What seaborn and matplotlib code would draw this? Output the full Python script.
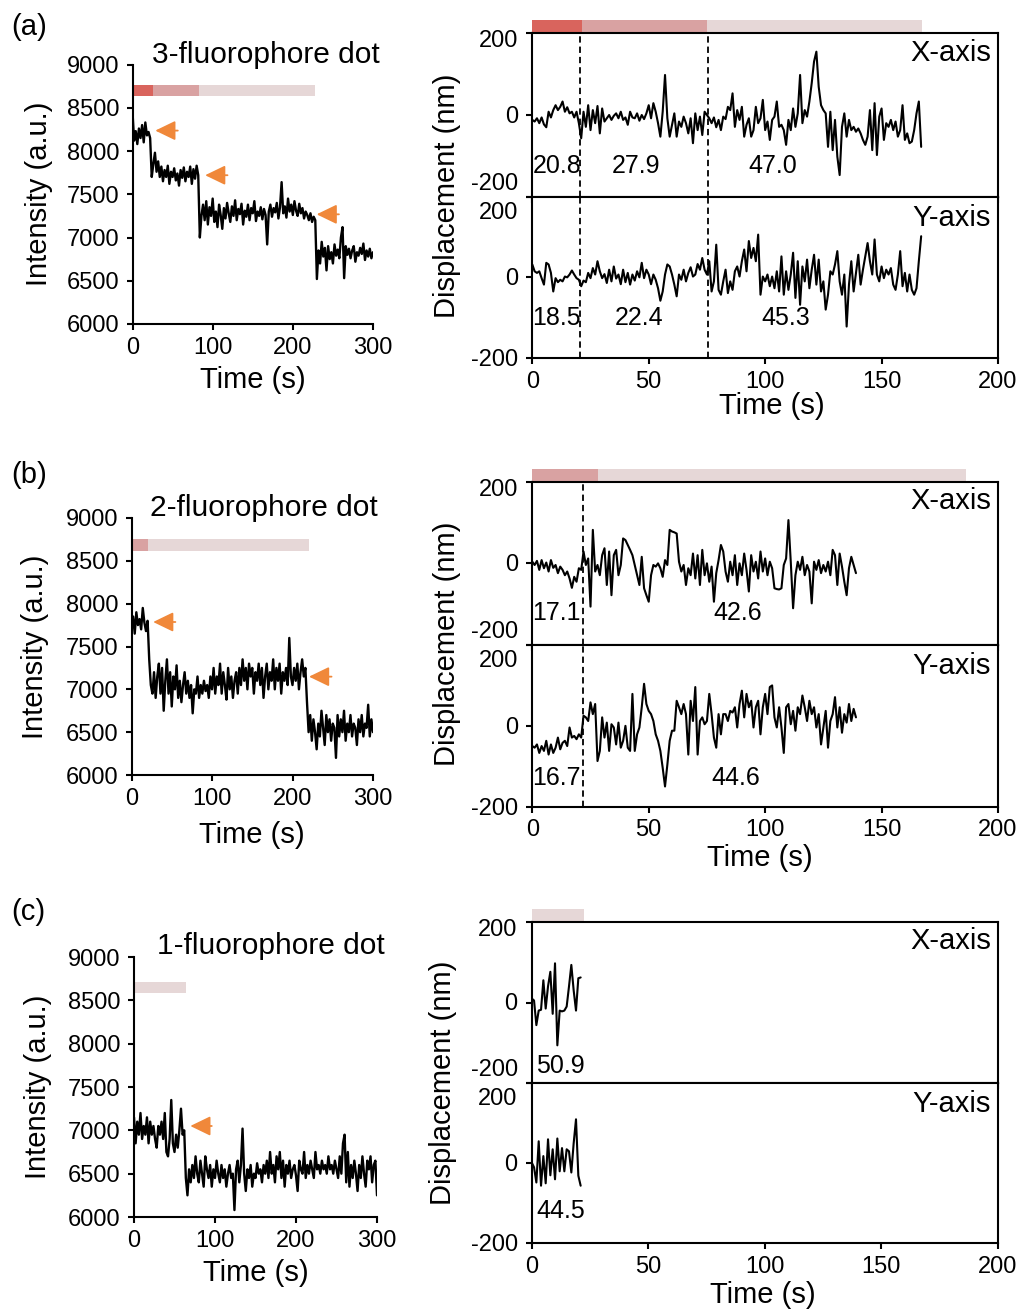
import numpy as np
import pandas as pd
import matplotlib
matplotlib.use("Agg")
import matplotlib.pyplot as plt
import matplotlib.transforms as mtransforms
import seaborn as sns

# ---------------- data ----------------
# intensity traces, sampled every 2 s from 0 to 300 s
int_a = [8450, 8120, 8230, 8080, 8260, 8150, 8300, 8100, 8330, 8180, 8220, 8150,
         7700, 7850, 7980, 7760, 7880, 7700, 7820, 7650, 7780, 7700,
         7830, 7620, 7760, 7700, 7800, 7660, 7740, 7600, 7780, 7690,
         7810, 7650, 7760, 7700, 7820, 7620, 7790, 7680, 7830, 7720,
         7000, 7250, 7380, 7200, 7420, 7150, 7350, 7250, 7450, 7180,
         7300, 7120, 7380, 7260, 7100, 7340, 7220, 7400, 7280, 7180,
         7360, 7250, 7430, 7200, 7330, 7270, 7390, 7150, 7310, 7240,
         7380, 7200, 7340, 7280, 7420, 7190, 7300, 7250, 7350, 7210,
         7330, 7260, 6920, 7300, 7380, 7240, 7340, 7290, 7400, 7220,
         7350, 7640, 7280, 7360, 7230, 7450, 7300, 7380, 7260, 7420,
         7310, 7250, 7390, 7280, 7340, 7220, 7300, 7260, 7200, 7280,
         7180, 7240, 7200,
         6520, 6850, 6700, 6950, 6780, 6880, 6620, 6900, 6750, 6830,
         6700, 6920, 6790, 6860, 6760, 7000, 7120, 6530, 6900, 6800,
         6870, 6760, 6850, 6900, 6720, 6830, 6790, 6880, 6810, 6930,
         6740, 6850, 6780, 6870, 6760, 6830]
int_b = [7700, 7850, 7650, 7900, 7750, 7820, 7700, 7950, 7780, 7680, 7800,
         7350, 7050, 6950, 7200, 6900, 7150, 7300, 6950, 7250, 6750,
         7100, 7350, 6950, 7200, 6800, 7150, 7000, 7280, 6900, 7100,
         6850, 7050, 7200, 6950, 7100, 6900, 7050, 6720, 7000, 6950,
         7150, 6900, 7050, 6950, 7100, 6980, 7050, 6900, 7150, 7000,
         7250, 6950, 7150, 7050, 7300, 6950, 7200, 7050, 6880, 7250,
         7000, 7150, 6900, 7100, 7200, 6950, 7250, 7050, 7350, 7100,
         7250, 7000, 7300, 7150, 7250, 6950, 7200, 7100, 7300, 7050,
         7250, 6900, 7150, 7300, 7000, 7200, 7100, 7350, 7000, 7250,
         7100, 7300, 6950, 7200, 7100, 7250, 7050, 7600, 7150, 7050,
         7250, 7100, 7300, 7000, 7200, 7350, 7150, 7250,
         6850, 6500, 6700, 6400, 6650, 6500, 6300, 6600, 6450, 6750,
         6550, 6350, 6700, 6500, 6650, 6400, 6600, 6550, 6200, 6700,
         6450, 6650, 6500, 6750, 6400, 6600, 6500, 6700, 6450, 6600,
         6550, 6350, 6650, 6500, 6700, 6450, 6600, 6550, 6820, 6450,
         6650, 6500]
int_c = [7150, 6850, 7100, 6950, 7200, 6900, 7050, 6950, 7150, 6850,
         7100, 6950, 7050, 6900, 6800, 7050, 6950, 7100, 6900, 7200,
         6750, 6700, 6900, 7350, 6850, 6750, 6950, 6800, 7000, 7250,
         6950, 7000,
         6450, 6250, 6550, 6400, 6600, 6450, 6700, 6500, 6400, 6650,
         6500, 6350, 6700, 6550, 6450, 6600, 6350, 6550, 6450, 6650,
         6500, 6400, 6600, 6450, 6550, 6350, 6500, 6600, 6450, 6500,
         6080, 6550, 6650, 6400, 6600, 7020, 6500, 6300, 6550, 6450,
         6600, 6350, 6500, 6450, 6620, 6500, 6550, 6400, 6600, 6500,
         6650, 6450, 6750, 6500, 6600, 6400, 6700, 6550, 6750, 6450,
         6650, 6350, 6600, 6500, 6650, 6450, 6550, 6600, 6480, 6300,
         6650, 6550, 6500, 6750, 6450, 6600, 6500, 6650, 6550, 6450,
         6750, 6550, 6600, 6500, 6650, 6550, 6600, 6500, 6700, 6550,
         6600, 6500, 6650, 6550, 6450, 6700, 6500, 6850, 6950, 6400,
         6750, 6350, 6600, 6450, 6650, 6500, 6300, 6600, 6450, 6700,
         6500, 6350, 6650, 6550, 6700, 6400, 6600, 6650, 6250]
int_dt = 2  # s between intensity samples

# displacement traces, sampled every 1 s
disp_a_x = [-12, -16, -8, -20, -6, -23, -30, 8, -6, 12,
            24, 12, 20, 33, 8, 19, 4, 8, -6, 8,
            -20, -57, 8, -29, 24, -37, 12, -20, 22, -45,
            16, -16, -8, 0, -12, -2, 4, -8, 8, -12,
            -6, -24, 8, -6, -8, 4, -14, 0, -10, 4,
            24, -8, 29, 8, -20, -53, 8, 98, -8, -53,
            -24, 4, -53, -16, -29, -4, -20, -45, -8, -69,
            4, -37, -4, -49, 8, 0, -8, -20, -6, -30,
            -12, -37, -4, -10, 20, 12, 53, -29, 12, -12,
            20, -53, -24, -8, -53, -37, 20, -20, -8, 37,
            -37, -16, -61, -12, -4, 33, -29, -24, -37, -73,
            -12, -37, 16, -29, 4, 98, -20, 12, -4, 33,
            78, 131, 155, 69, 24, 12, 4, -78, 8, -86,
            -12, -102, -147, -29, 4, -53, -12, -37, -29, -41,
            -33, -45, -61, -73, -53, 12, -86, 29, -98, -4,
            16, -61, -20, -29, -12, -37, -16, -53, -37, 24,
            -61, -45, -69, -65, -37, 4, 33, -78]
disp_a_y = [32, 15, 11, 15, -2, -18, 36, 32, 11, -35,
            -2, -12, -6, -10, 2, 0, 7, 17, 7, -2,
            -6, -22, -8, -12, 11, -2, 23, 7, 40, 15,
            -2, 8, -14, 19, -10, 27, -3, 7, -17, 19,
            -12, 11, -18, 7, -8, 15, 0, 36, -2, 19,
            7, -17, 7, -6, -27, -58, -35, 7, 32, 27,
            7, -18, -47, 7, -6, 19, -10, 11, 25, 2,
            7, 33, 19, 48, 19, 7, 40, -35, -10, 81,
            -31, -43, -10, 19, -39, -10, -31, 15, 27, 2,
            40, 69, 15, 90, 48, 73, 40, 106, -43, 2,
            -10, 7, -22, 2, -27, 15, -35, 52, -43, 15,
            -31, 7, 61, -51, 40, -68, 27, -10, 44, -27,
            19, 56, -18, 44, -35, -10, -80, -43, 15, 7,
            32, 65, -10, -43, 7, -122, -18, 40, -35, 11,
            56, -18, 19, 52, 85, 40, 7, 94, 7, -10,
            27, -2, 19, 7, 23, -18, -31, 7, 65, -22,
            11, -35, 7, -31, -43, -27, 40, 102]
disp_b_x = [4, -4, 6, -16, 8, -12, 2, -20, 8, -11,
            -4, -24, -8, -16, -29, -20, -37, -60, -33, -45,
            -12, -16, 29, -4, 12, -106, 82, -20, -4, -29,
            20, 37, -53, 29, -78, 20, 33, -29, -4, 61,
            57, 45, 33, 20, -4, -29, -53, 16, -61, -78,
            -94, -29, -4, -8, 0, -12, -33, 8, -4, 82,
            78, 76, 73, 4, -20, -4, -53, -12, -29, 24,
            -37, 20, -53, 33, -29, 0, -45, -8, -94, -24,
            8, 45, 29, -20, -45, 4, -29, 20, -53, 0,
            -29, 24, -16, -69, 20, -20, 4, -37, 29, -20,
            12, -29, 4, -12, -61, -63, -64, -61, -4, 12,
            106, 4, -110, -29, 4, -16, 16, -29, -4, -20,
            -98, 4, -16, 8, -24, -4, -20, 4, -29, 33,
            20, -53, 24, -8, -45, -78, -12, 16, -4, -24]
disp_b_y = [-50, -54, -46, -67, -50, -62, -37, -71, -46, -67,
            -54, -29, -58, -42, -37, -50, -4, -29, -25, -33,
            -21, -29, 25, 21, 12, 58, 29, 54, -87, -62,
            21, -29, 8, -62, 4, -4, -46, 8, -54, -37,
            0, -54, -62, 79, -62, -21, -4, 46, 104, 54,
            37, 29, 12, -21, -37, -62, -104, -150, -96, -37,
            -12, -12, 62, 46, 29, 54, 29, -71, 62, 12,
            96, -71, 12, 21, 4, 12, 79, 29, -29, -54,
            29, -21, 29, 29, 12, 37, 33, 46, -4, 54,
            87, 21, 79, 46, 62, -4, 46, 62, -21, 46,
            79, 29, 96, 100, 21, -4, 46, -4, -67, 46,
            54, 4, 37, -12, 46, 29, 75, 46, 12, 62,
            29, 46, -4, 29, -46, -4, 37, -54, 12, 29,
            71, -4, 46, -17, 29, 8, 54, 12, 42, 21]
disp_c_x = [10, 5, -56, -20, -18, 55, -15, 40, 76, -28, 97, -106,
            -20, -22, -20, -10, 40, 93, 30, -20, 60, 62]
disp_c_y = [2, -10, -48, 55, -56, 18, -50, 60, -30, 35, -40, 62,
            -20, 38, -20, 35, 30, -23, 50, 110, -31, -56]
disp_dt = 1

# colour bar segment boundaries (s)
bar_a_left = [0, 25, 83, 228]
bar_b_left = [0, 20.7, 220.5]
bar_c_left = [0, 64.5]
bar_a_right = [0, 21.2, 74.9, 167.5]
bar_b_right = [0, 28.4, 186.3]
bar_c_right = [0, 22.4]
bar_cols_a = ["#d9645d", "#d9a2a2", "#e6d7d7"]
bar_cols_b = ["#d9a2a2", "#e6d7d7"]
bar_cols_c = ["#e6d7d7"]
bar_lvl_left = {"a": (8640, 8760), "b": (8620, 8750), "c": (8580, 8710)}

# dashed boundaries (s)
dash_a = [20.5, 75.5]
dash_b = [21.6]

# arrows: tip time, tail time, level
arrows_a = [(28.4, 56.5, 8236), (90.6, 118.5, 7720), (229.7, 257.5, 7268)]
arrows_b = [(26.9, 54.5, 7786), (220.5, 248.5, 7148)]
arrows_c = [(69.5, 96, 7050)]

# numeric annotations (time, value, text)
ann_a_x = [(10.8, -125, "20.8"), (44.7, -125, "27.9"), (103.2, -125, "47.0")]
ann_a_y = [(10.2, -100, "18.5"), (45.9, -100, "22.4"), (109, -100, "45.3")]
ann_b_x = [(10.2, -122, "17.1"), (88.4, -122, "42.6")]
ann_b_y = [(10.2, -129, "16.7"), (87.3, -129, "44.6")]
ann_c_x = [(12.3, -158, "50.9")]
ann_c_y = [(12.3, -118, "44.5")]

int_ticks = [6000, 6500, 7000, 7500, 8000, 8500, 9000]
time_ticks_left = [0, 100, 200, 300]
time_ticks_right = [0, 50, 100, 150, 200]
disp_ticks = [-200, 0, 200]

titles = ["3-fluorophore dot", "2-fluorophore dot", "1-fluorophore dot"]
tags = ["(a)", "(b)", "(c)"]

# ---------------- style ----------------
sns.set_theme(style="ticks")
plt.rcParams["font.family"] = ["Liberation Sans", "DejaVu Sans"]
plt.rcParams.update({
    "axes.edgecolor": "black", "axes.linewidth": 1.5,
    "xtick.color": "black", "ytick.color": "black",
    "xtick.major.width": 1.5, "ytick.major.width": 1.5,
    "text.color": "black", "axes.labelcolor": "black",
    "xtick.labelsize": 17, "ytick.labelsize": 17,
})
ORANGE = "#f0883a"
W, H = 1021, 1311
fig = plt.figure(figsize=(W / 100, H / 100), dpi=100)


def add_ax(x0, y0, x1, y1):
    return fig.add_axes([x0 / W, 1 - y1 / H, (x1 - x0) / W, (y1 - y0) / H])


def ftext(x, y, s, **kw):
    fig.text(x / W, 1 - y / H, s, **kw)


def intensity_panel(box, vals, bars, cols, lvl, arrows, xlab_dy, ylab_x):
    x0, y0, x1, y1 = box
    ax = add_ax(*box)
    t = np.arange(len(vals)) * int_dt
    df = pd.DataFrame({"t": t, "v": vals})
    sns.lineplot(data=df, x="t", y="v", ax=ax, color="black", linewidth=1.7)
    ax.set_xlim(0, 300)
    ax.set_ylim(6000, 9000)
    ax.set_xticks(time_ticks_left)
    ax.set_yticks(int_ticks)
    ax.tick_params(direction="out", length=4.5, pad=5)
    for s in ["top", "right"]:
        ax.spines[s].set_visible(False)
    starts = bars[:-1]
    widths = np.diff(bars)
    ax.barh([(lvl[0] + lvl[1]) / 2] * len(widths), widths, left=starts,
            height=lvl[1] - lvl[0], color=cols[:len(widths)], linewidth=0)
    for tip, tail, lev in arrows:
        ax.annotate("", xy=(tip, lev), xytext=(tail, lev),
                    arrowprops=dict(arrowstyle="-|>,head_length=0.62,head_width=0.3",
                                    mutation_scale=20, color=ORANGE, lw=1.3,
                                    shrinkA=0, shrinkB=0))
    ax.set_xlabel("Time (s)", fontsize=21)
    ax.set_ylabel("Intensity (a.u.)", fontsize=21)
    ax.xaxis.label.set_va("center")
    ax.yaxis.label.set_va("center")
    ax.xaxis.set_label_coords(0.5, -xlab_dy / (y1 - y0))
    ax.yaxis.set_label_coords((ylab_x - x0) / (x1 - x0), 0.5)
    return ax


def disp_panels(xr, ytop, ymid, ybot, dx, dy, bars, cols, dashes, ann_x, ann_y,
                xlab_cx, xlab_dy, disp_x):
    x0, x1 = xr
    axX = add_ax(x0, ytop, x1, ymid)
    axY = add_ax(x0, ymid, x1, ybot)
    for ax, vals, anns in [(axX, dx, ann_x), (axY, dy, ann_y)]:
        t = np.arange(len(vals)) * disp_dt
        df = pd.DataFrame({"t": t, "v": vals})
        sns.lineplot(data=df, x="t", y="v", ax=ax, color="black", linewidth=1.5)
        ax.set_xlim(0, 200)
        ax.set_ylim(-200, 200)
        ax.set_xticks(time_ticks_right)
        ax.set_yticks(disp_ticks)
        ax.set_yticklabels([])
        ax.tick_params(direction="out", length=4, pad=5)
        for d in dashes:
            ax.axvline(d, color="black", lw=1.3, ls=(0, (3.5, 2.2)))
        for tt, vv, s in anns:
            ax.text(tt, vv, s, ha="center", va="center", fontsize=18)
        ax.set_xlabel("")
        ax.set_ylabel("")
    axX.set_xticklabels([])
    # manual y tick labels (shifted at panel joins like the original)
    for ax, offs in [(axX, {200: -6, 0: 0, -200: 15}), (axY, {200: -14, 0: 0, -200: 0})]:
        trans = mtransforms.blended_transform_factory(ax.transAxes, ax.transData)
        for v in disp_ticks:
            off = mtransforms.ScaledTranslation(-14 / 100, (offs[v] - 2) / 100,
                                                fig.dpi_scale_trans)
            ax.text(0, v, str(v), transform=trans + off, ha="right", va="center",
                    fontsize=17)
    starts = bars[:-1]
    widths = np.diff(bars)
    axX.barh([216] * len(widths), widths, left=starts, height=32,
             color=cols[:len(widths)], linewidth=0, clip_on=False, zorder=0)
    axX.text(0.985, 0.88, "X-axis", transform=axX.transAxes, ha="right",
             va="center", fontsize=21)
    axY.text(0.985, 0.87, "Y-axis", transform=axY.transAxes, ha="right",
             va="center", fontsize=21)
    axY.set_xlabel("Time (s)", fontsize=21)
    axY.xaxis.label.set_va("center")
    axY.xaxis.set_label_coords((xlab_cx - x0) / (x1 - x0), -xlab_dy / (ybot - ymid))
    ftext(disp_x, (ytop + ybot) / 2, "Displacement (nm)", rotation=90,
          ha="center", va="center", fontsize=21)
    return axX, axY


intensity_panel((132.5, 64.5, 373, 324), int_a, bar_a_left, bar_cols_a,
                bar_lvl_left["a"], arrows_a, 56, 39)
intensity_panel((131.5, 518, 373, 775), int_b, bar_b_left, bar_cols_b,
                bar_lvl_left["b"], arrows_b, 60, 35)
intensity_panel((134, 957, 377, 1217), int_c, bar_c_left, bar_cols_c,
                bar_lvl_left["c"], arrows_c, 56, 38)

disp_panels((532.3, 998), 33.3, 196.7, 358, disp_a_x, disp_a_y, bar_a_right,
            bar_cols_a, dash_a, ann_a_x, ann_a_y, 772, 48, 447)
disp_panels((532.3, 998), 481.7, 645, 806.7, disp_b_x, disp_b_y, bar_b_right,
            bar_cols_b, dash_b, ann_b_x, ann_b_y, 760, 51, 447)
disp_panels((531.7, 998), 921.7, 1083.3, 1243.3, disp_c_x, disp_c_y, bar_c_right,
            bar_cols_c, [], ann_c_x, ann_c_y, 763, 52, 443)

for tag, ty in zip(tags, [27, 475, 912]):
    ftext(11, ty, tag, ha="left", va="center", fontsize=21)
for title, (cx, cy) in zip(titles, [(266, 55), (264, 508), (271, 946)]):
    ftext(cx, cy, title, ha="center", va="center", fontsize=21.5)

fig.savefig("out.png", dpi=100)
